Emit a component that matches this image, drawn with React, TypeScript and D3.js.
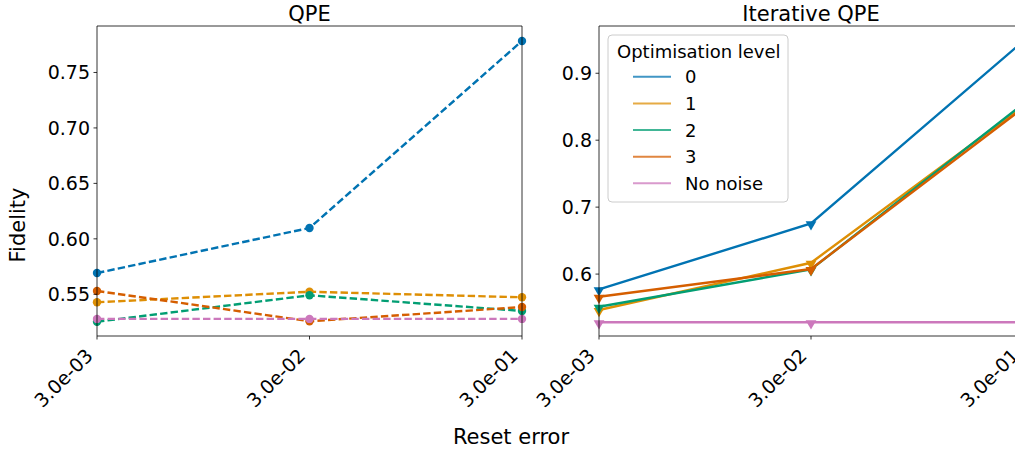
import React from "react";
import * as d3 from "d3";

const xValues = [0.003, 0.03, 0.3];
const xTickLabels = ["3.0e-03", "3.0e-02", "3.0e-01"];
const seriesNames = ["0", "1", "2", "3", "No noise"];
const seriesColors = ["#0173b2", "#de8f05", "#029e73", "#d55e00", "#cc78bc"];

// QPE (left panel)
const qpe0 = [0.5692, 0.6098, 0.7784];
const qpe1 = [0.5428, 0.5523, 0.5473];
const qpe2 = [0.5253, 0.5491, 0.535];
const qpe3 = [0.553, 0.5257, 0.5385];
const qpeNoNoise = [0.5278, 0.5278, 0.5278];

// Iterative QPE (right panel)
const iqpe0 = [0.5772, 0.6757, 0.9476];
const iqpe1 = [0.5463, 0.6169, 0.8505];
const iqpe2 = [0.5512, 0.607, 0.854];
const iqpe3 = [0.5661, 0.6075, 0.848];
const iqpeNoNoise = [0.528, 0.528, 0.528];

const leftYTicks = [0.55, 0.6, 0.65, 0.7, 0.75];
const rightYTicks = [0.6, 0.7, 0.8, 0.9];

const W = 1015;
const H = 451;
const FONT = "DejaVu Sans, sans-serif";
const TOP = 26;
const BOTTOM = 336;

type PanelProps = {
  x0: number;
  x1: number;
  yDomain: [number, number];
  yTicks: number[];
  yFmt: string;
  data: number[][];
  title: string;
  dashed: boolean;
  marker: "circle" | "tri";
  rightSpine: boolean;
};

function Panel(p: PanelProps) {
  const x = d3.scaleLog().domain([0.003, 0.3]).range([p.x0, p.x1]);
  const y = d3.scaleLinear().domain(p.yDomain).range([BOTTOM, TOP]);
  const line = d3
    .line<number>()
    .x((_, i) => x(xValues[i]))
    .y((d) => y(d));
  const fmt = d3.format(p.yFmt);
  const tri = d3.symbol().type(d3.symbolTriangle).size(50)();
  return (
    <g>
      {p.data.map((s, si) => (
        <g key={si}>
          <path
            d={line(s) || ""}
            fill="none"
            stroke={seriesColors[si]}
            strokeWidth={2.4}
            strokeDasharray={p.dashed ? "7.4,3.2" : undefined}
          />
          {s.map((v, i) =>
            p.marker === "circle" ? (
              <circle key={i} cx={x(xValues[i])} cy={y(v)} r={4.2} fill={seriesColors[si]} />
            ) : (
              <path
                key={i}
                d={tri || ""}
                transform={`translate(${x(xValues[i])},${y(v) + 1}) rotate(180)`}
                fill={seriesColors[si]}
              />
            )
          )}
        </g>
      ))}
      {/* spines */}
      <line x1={p.x0} x2={p.x0} y1={TOP} y2={BOTTOM} stroke="#000" strokeWidth={0.8} />
      <line x1={p.x0} x2={p.x1} y1={TOP} y2={TOP} stroke="#000" strokeWidth={0.8} />
      <line x1={p.x0} x2={p.x1} y1={BOTTOM} y2={BOTTOM} stroke="#000" strokeWidth={0.8} />
      {p.rightSpine && (
        <line x1={p.x1} x2={p.x1} y1={TOP} y2={BOTTOM} stroke="#000" strokeWidth={0.8} />
      )}
      {/* y ticks */}
      {p.yTicks.map((t) => (
        <g key={t}>
          <line x1={p.x0 - 3.5} x2={p.x0} y1={y(t)} y2={y(t)} stroke="#000" strokeWidth={0.8} />
          <text
            x={p.x0 - 7}
            y={y(t)}
            dy="0.36em"
            textAnchor="end"
            fontSize={19}
            fontFamily={FONT}
            fill="#000"
          >
            {fmt(t)}
          </text>
        </g>
      ))}
      {/* x ticks */}
      {xValues.map((v, i) => (
        <g key={v}>
          <line x1={x(v)} x2={x(v)} y1={BOTTOM} y2={BOTTOM + 3.5} stroke="#000" strokeWidth={0.8} />
          <text
            transform={`translate(${x(v) - 3},${BOTTOM + 21}) rotate(-45)`}
            textAnchor="end"
            fontSize={19}
            fontFamily={FONT}
            fill="#000"
          >
            {xTickLabels[i]}
          </text>
        </g>
      ))}
      <text
        x={(p.x0 + p.x1) / 2}
        y={20.5}
        textAnchor="middle"
        fontSize={21}
        fontFamily={FONT}
        fill="#000"
      >
        {p.title}
      </text>
    </g>
  );
}

function Legend() {
  const bx = 608;
  const by = 35;
  const bw = 180;
  const bh = 167;
  const baselines = [83.3, 110, 136.6, 163.2, 189.8];
  return (
    <g>
      <rect
        x={bx}
        y={by}
        width={bw}
        height={bh}
        rx={4}
        ry={4}
        fill="#fff"
        fillOpacity={0.8}
        stroke="#cccccc"
        strokeWidth={1}
      />
      <text x={617} y={57.5} fontSize={18} fontFamily={FONT} fill="#000">
        Optimisation level
      </text>
      {seriesNames.map((n, i) => (
        <g key={n}>
          <line
            x1={633}
            x2={671}
            y1={baselines[i] - 6.5}
            y2={baselines[i] - 6.5}
            stroke={seriesColors[i]}
            strokeOpacity={0.75}
            strokeWidth={2}
          />
          <text x={685} y={baselines[i]} fontSize={18} fontFamily={FONT} fill="#000">
            {n}
          </text>
        </g>
      ))}
    </g>
  );
}

export default function App() {
  return (
    <svg
      width={W}
      height={H}
      viewBox={`0 0 ${W} ${H}`}
      style={{ position: "absolute", left: 0, top: 0, background: "#fff", overflow: "hidden" }}
    >
      <rect x={0} y={0} width={W} height={H} fill="#fff" />
      <Panel
        x0={97}
        x1={522}
        yDomain={[0.5124, 0.7919]}
        yTicks={leftYTicks}
        yFmt=".2f"
        data={[qpe0, qpe1, qpe2, qpe3, qpeNoNoise]}
        title="QPE"
        dashed={true}
        marker="circle"
        rightSpine={true}
      />
      <Panel
        x0={599}
        x1={1023}
        yDomain={[0.5075, 0.9706]}
        yTicks={rightYTicks}
        yFmt=".1f"
        data={[iqpe0, iqpe1, iqpe2, iqpe3, iqpeNoNoise]}
        title="Iterative QPE"
        dashed={false}
        marker="tri"
        rightSpine={false}
      />
      <Legend />
      <text
        transform={`translate(25,225) rotate(-90)`}
        textAnchor="middle"
        fontSize={21}
        fontFamily={FONT}
        fill="#000"
      >
        Fidelity
      </text>
      <text x={511} y={444} textAnchor="middle" fontSize={21} fontFamily={FONT} fill="#000">
        Reset error
      </text>
    </svg>
  );
}
